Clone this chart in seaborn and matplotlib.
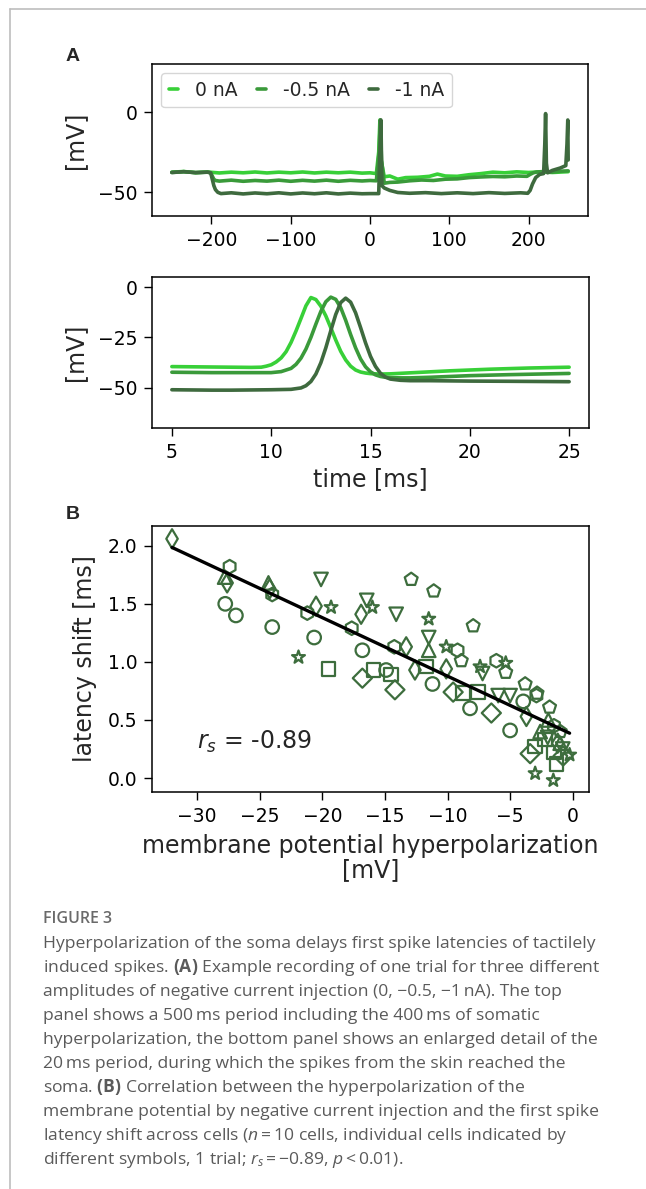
import numpy as np
import pandas as pd
import seaborn as sns
import matplotlib
matplotlib.use('Agg')
import matplotlib.pyplot as plt
from matplotlib.lines import Line2D

# ==========================================
# Panel A (top) : 500 ms recording
# ==========================================

t_top_0 = [-250, -235, -220, -205, -190, -175, -160, -145, -130, -115, -100, -85, -70, -55, -40, -25, -10, 0, 8,
           11, 12.5, 14, 18, 25, 35, 45, 60, 75, 85, 95, 110, 125, 140, 155, 170, 185, 200, 215, 230, 250]
v_top_0 = [-37.6, -37.2, -37.9, -37.5, -38.1, -37.6, -38.0, -37.5, -38.1, -37.6, -38.0, -37.5, -38.1, -37.6, -38.0,
           -37.6, -38.2, -38.0, -38.5, -25, -5, -30, -40.5, -40, -42, -41, -40.8, -40.2, -38.8, -40, -40.2, -39.2,
           -38.5, -37.6, -38, -37.4, -37.8, -37.4, -37.8, -37.3]

t_top_05 = [-250, -235, -220, -205, -201, -199, -197, -195, -190, -175, -160, -145, -130, -115, -100, -85, -70, -55,
            -40, -25, -10, 0, 8, 11.5, 13, 14.5, 18, 25, 35, 50, 65, 80, 95, 110, 125, 140, 155, 170, 185, 198, 202,
            206, 210, 220, 230, 240, 250]
v_top_05 = [-37.8, -37.3, -37.9, -37.6, -38, -40, -42, -42.8, -43.2, -42.6, -43.3, -42.8, -43.2, -42.6, -43.3, -42.7,
            -43.2, -42.6, -43.3, -42.7, -43.1, -42.8, -43.0, -25, -5, -30, -44.5, -44, -43.8, -43, -42.5, -42.8, -42,
            -41.8, -41, -40.6, -40.3, -40.5, -40, -40.2, -39, -38, -37.5, -37.2, -37.6, -37, -36.8]

t_top_1 = [-250, -235, -220, -205, -201, -199, -197, -195, -192, -188, -175, -160, -145, -130, -115, -100, -85, -70,
           -55, -40, -25, -10, 0, 11, 12.2, 13.8, 15, 18, 25, 35, 50, 70, 90, 110, 130, 150, 170, 190, 199, 202, 205,
           209, 214, 219, 220.5, 221.5, 222.5, 224, 230, 240, 247, 248.5, 249.5, 250]
v_top_1 = [-37.8, -37.3, -37.9, -37.6, -38, -42, -46, -48.5, -50.2, -51, -50.5, -51.2, -50.6, -51.1, -50.5, -51.2,
           -50.6, -51.1, -50.5, -51.2, -50.7, -51.1, -51, -51, -30, -5, -46, -47.5, -49, -50.3, -50.8, -50.4, -51,
           -50.5, -51, -50.4, -50.9, -50.5, -50.8, -49, -45, -41, -39, -38.5, -20, -1, -32, -38, -36.5, -35, -33.5,
           -20, -5, -30]

# ==========================================
# Panel A (bottom) : 20 ms detail
# ==========================================

t_bot_0 = [5, 6, 7, 8, 9, 9.5, 9.75, 10, 10.25, 10.5, 10.75, 11, 11.25, 11.5, 11.75, 12, 12.25, 12.5, 12.75, 13,
           13.25, 13.5, 13.75, 14, 14.25, 14.5, 14.75, 15, 15.5, 16, 17, 18, 19, 20, 21, 22, 23, 24, 25]
v_bot_0 = [-39.5, -39.6, -39.7, -39.8, -39.9, -39.8, -39.3, -38.6, -37.2, -35.2, -32.1, -27.5, -21.8, -15.6, -9.3,
           -5.2, -6.2, -9.5, -14.3, -20.2, -26.3, -31.9, -36.2, -39.3, -41.2, -42.2, -42.7, -43.0, -43.2, -43.1,
           -42.6, -42.1, -41.6, -41.2, -40.8, -40.5, -40.2, -40.0, -39.8]

t_bot_05 = [5, 6, 7, 8, 9, 10, 10.5, 11, 11.25, 11.5, 11.75, 12, 12.25, 12.5, 12.75, 13, 13.25, 13.5, 13.75, 14,
            14.25, 14.5, 14.75, 15, 15.25, 15.5, 15.75, 16, 16.5, 17, 18, 19, 20, 22, 25]
v_bot_05 = [-42.3, -42.4, -42.5, -42.5, -42.5, -42.5, -42.0, -40.4, -38.4, -35.3, -30.8, -25.0, -18.4, -12.1, -7.3,
            -5.0, -6.1, -10.2, -16.5, -23.6, -30.2, -35.7, -39.6, -42.1, -43.6, -44.4, -44.8, -45.0, -45.1, -45.1,
            -44.8, -44.4, -44.0, -43.5, -42.9]

t_bot_1 = [5, 6, 7, 8, 9, 10, 11, 11.5, 11.75, 12, 12.25, 12.5, 12.75, 13, 13.25, 13.5, 13.75, 14, 14.25, 14.5,
           14.75, 15, 15.25, 15.5, 15.75, 16, 16.5, 17, 18, 19, 20, 22, 25]
v_bot_1 = [-51.0, -51.1, -51.2, -51.2, -51.1, -51.0, -50.8, -50.1, -49.0, -46.9, -43.2, -37.6, -30.2, -21.7, -13.6,
           -7.7, -5.5, -7.5, -12.8, -20.1, -27.7, -34.4, -39.4, -42.8, -44.7, -45.7, -46.3, -46.5, -46.5, -46.6,
           -46.7, -46.8, -47.0]

currents = ['0 nA', '-0.5 nA', '-1 nA']
trace_colors = ['#38d038', '#3a9a3a', '#3e6a3e']

# ==========================================
# Panel B : latency shift vs hyperpolarization, one list pair per cell
# ==========================================

circ_x = [-27.75, -26.9, -24.0, -20.65, -16.8, -14.9, -11.2, -8.2, -5.0, -3.95]
circ_y = [1.50, 1.40, 1.30, 1.21, 1.10, 0.93, 0.81, 0.60, 0.41, 0.66]
sq_x = [-19.5, -15.9, -14.5, -11.7, -8.75, -7.55, -3.0, -1.3, -1.5, -2.2]
sq_y = [0.94, 0.93, 0.89, 0.96, 0.73, 0.74, 0.27, 0.12, 0.22, 0.33]
dia_x = [-16.8, -14.2, -9.55, -6.5, -3.4, -0.77]
dia_y = [0.86, 0.76, 0.74, 0.56, 0.21, 0.19]
thin_x = [-32.0, -27.6, -24.2, -20.5, -16.9, -13.3, -12.6, -10.1, -3.7, -1.2]
thin_y = [2.06, 1.68, 1.63, 1.48, 1.41, 1.13, 0.93, 0.94, 0.53, 0.30]
tdown_x = [-20.1, -16.45, -14.1, -11.5, -7.2, -5.95, -5.0, -2.0, -0.8]
tdown_y = [1.71, 1.53, 1.41, 1.21, 0.90, 0.71, 0.71, 0.35, 0.25]
tup_x = [-27.8, -24.3, -11.5, -2.6, -1.95, -1.0]
tup_y = [1.73, 1.68, 1.10, 0.40, 0.50, 0.30]
pent_x = [-12.9, -11.1, -7.95, -8.9, -5.35, -3.8, -2.85, -1.85, -1.0]
pent_y = [1.71, 1.61, 1.31, 1.01, 0.91, 0.81, 0.73, 0.61, 0.40]
hex_x = [-27.4, -24.0, -21.2, -17.65, -14.25, -9.2, -6.1, -2.9, -1.5]
hex_y = [1.82, 1.58, 1.42, 1.29, 1.13, 1.10, 1.01, 0.71, 0.45]
star_x = [-21.9, -19.3, -16.0, -11.5, -10.1, -7.4, -5.35, -3.0, -1.55, -0.25]
star_y = [1.04, 1.47, 1.47, 1.37, 1.13, 0.96, 0.99, 0.04, -0.02, 0.20]

cell_markers = ['o', 's', 'D', 'd', 'v', '^', 'p', 'h', '*']
cell_x = [circ_x, sq_x, dia_x, thin_x, tdown_x, tup_x, pent_x, hex_x, star_x]
cell_y = [circ_y, sq_y, dia_y, thin_y, tdown_y, tup_y, pent_y, hex_y, star_y]
r_s = -0.89

caption_head = 'FIGURE 3'
caption_lines = [
    'Hyperpolarization of the soma delays first spike latencies of tactilely',
    'induced spikes. $\\mathbf{(A)}$ Example recording of one trial for three different',
    'amplitudes of negative current injection (0, \u22120.5, \u22121\u2009nA). The top',
    'panel shows a 500\u2009ms period including the 400\u2009ms of somatic',
    'hyperpolarization, the bottom panel shows an enlarged detail of the',
    '20\u2009ms period, during which the spikes from the skin reached the',
    'soma. $\\mathbf{(B)}$ Correlation between the hyperpolarization of the',
    'membrane potential by negative current injection and the first spike',
    'latency shift across cells ($n$\u2009=\u200910 cells, individual cells indicated by',
    'different symbols, 1 trial; $r_s$\u2009=\u2009\u22120.89, $p$\u2009<\u20090.01).',
]

# ==========================================
# Build tables
# ==========================================

df_top = pd.concat([
    pd.DataFrame({'t': t_top_0, 'v': v_top_0, 'current': currents[0]}),
    pd.DataFrame({'t': t_top_05, 'v': v_top_05, 'current': currents[1]}),
    pd.DataFrame({'t': t_top_1, 'v': v_top_1, 'current': currents[2]}),
], ignore_index=True)

df_bot = pd.concat([
    pd.DataFrame({'t': t_bot_0, 'v': v_bot_0, 'current': currents[0]}),
    pd.DataFrame({'t': t_bot_05, 'v': v_bot_05, 'current': currents[1]}),
    pd.DataFrame({'t': t_bot_1, 'v': v_bot_1, 'current': currents[2]}),
], ignore_index=True)

df_b = pd.concat([
    pd.DataFrame({'x': xs, 'y': ys, 'cell': 'cell%d' % i})
    for i, (xs, ys) in enumerate(zip(cell_x, cell_y))
], ignore_index=True)

# ==========================================
# Style
# ==========================================

sns.set_style('ticks')
plt.rcParams['font.family'] = ['DejaVu Sans']
plt.rcParams['axes.edgecolor'] = 'black'
plt.rcParams['xtick.color'] = 'black'
plt.rcParams['ytick.color'] = 'black'
plt.rcParams['axes.linewidth'] = 1.1
plt.rcParams['mathtext.fontset'] = 'dejavusans'
plt.rcParams['mathtext.rm'] = 'Open Sans'
plt.rcParams['mathtext.it'] = 'Open Sans:italic'
plt.rcParams['mathtext.bf'] = 'Open Sans:bold'

tick_fs = 13.5
label_fs = 17
green = '#3d6d3d'
palette = dict(zip(currents, trace_colors))

W, H = 646, 1189
fig = plt.figure(figsize=(W / 100, H / 100), dpi=100)


def box(left, top, right, bottom):
    return [left / W, 1 - bottom / H, (right - left) / W, (bottom - top) / H]


ax1 = fig.add_axes(box(152, 64, 588, 216))
ax2 = fig.add_axes(box(152, 277, 589, 428))
ax3 = fig.add_axes(box(152, 526, 589, 792))

# ---- top trace
sns.lineplot(data=df_top, x='t', y='v', hue='current', palette=palette, hue_order=currents,
             estimator=None, sort=False, lw=2.6, ax=ax1)
ax1.set_xlim(-275, 275)
ax1.set_ylim(-65, 30)
ax1.set_xticks([-200, -100, 0, 100, 200])
ax1.set_yticks([-50, 0])
ax1.set_xlabel('')
ax1.set_ylabel('[mV]', fontsize=label_fs, labelpad=8)
sns.move_legend(ax1, 'upper left', ncol=3, title=None, fontsize=tick_fs, handlelength=0.5,
                handletextpad=0.9, columnspacing=1.0, frameon=True, borderaxespad=0.5)

# ---- zoomed spikes
sns.lineplot(data=df_bot, x='t', y='v', hue='current', palette=palette, hue_order=currents,
             estimator=None, sort=False, lw=2.6, ax=ax2, legend=False)
ax2.set_xlim(4, 26)
ax2.set_ylim(-70, 5)
ax2.set_xticks([5, 10, 15, 20, 25])
ax2.set_yticks([-50, -25, 0])
ax2.set_xlabel('time [ms]', fontsize=label_fs, labelpad=4)
ax2.set_ylabel('[mV]', fontsize=label_fs, labelpad=8)

# ---- scatter B
sns.scatterplot(data=df_b, x='x', y='y', style='cell', markers=cell_markers, s=95,
                color=green, facecolor='none', edgecolor=green, linewidth=1.6, legend=False, ax=ax3)
sns.regplot(data=df_b, x='x', y='y', scatter=False, ci=None, color='black',
            line_kws={'lw': 2.4}, ax=ax3)
ax3.set_xlim(-33.6, 1.3)
ax3.set_ylim(-0.12, 2.17)
ax3.set_xticks([-30, -25, -20, -15, -10, -5, 0])
ax3.set_yticks([0.0, 0.5, 1.0, 1.5, 2.0])
ax3.set_xlabel('membrane potential hyperpolarization\n[mV]', fontsize=label_fs, linespacing=1.0,
               labelpad=6)
ax3.set_ylabel('latency shift [ms]', fontsize=label_fs, labelpad=8)
ax3.text(-30, 0.255, '$r_s$ = %.2f' % r_s, fontsize=17, va='baseline')

for ax in (ax1, ax2, ax3):
    ax.tick_params(labelsize=tick_fs, length=5.5, width=1.0, pad=5)

# panel letters
fig.text(66 / W, 1 - 61 / H, 'A', fontsize=14, fontweight='bold', family='Liberation Sans', va='baseline')
fig.text(66 / W, 1 - 519 / H, 'B', fontsize=14, fontweight='bold', family='Liberation Sans', va='baseline')

# caption
fig.text(43 / W, 1 - 923 / H, caption_head, fontsize=11.5, color='#6a6a6a', fontweight='semibold',
         family=['Open Sans', 'DejaVu Sans'], va='baseline')
for i, line in enumerate(caption_lines):
    fig.text(43 / W, 1 - (948 + 24 * i) / H, line, fontsize=12.6, color='#5a5a5a',
             family=['Open Sans', 'DejaVu Sans'], va='baseline', math_fontfamily='custom')

# page frame
fig.add_artist(Line2D([10 / W, 10 / W], [0, 1 - 9 / H], transform=fig.transFigure, color='#bdbdbd', lw=1.2))
fig.add_artist(Line2D([10 / W, 1], [1 - 9 / H, 1 - 9 / H], transform=fig.transFigure, color='#bdbdbd', lw=1.2))

fig.savefig('out.png', dpi=100)
